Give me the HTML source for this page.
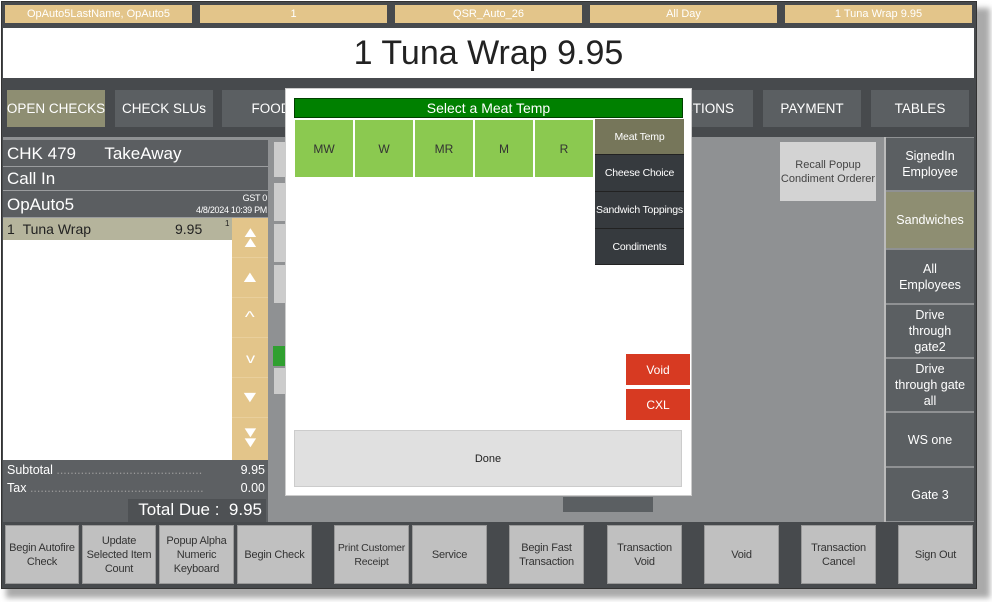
<!DOCTYPE html>
<html><head><meta charset="utf-8"><style>
*{margin:0;padding:0;box-sizing:border-box}
body{width:992px;height:602px;background:#fff;position:relative;overflow:hidden;font-family:"Liberation Sans",sans-serif}
div{position:absolute}
.c{display:flex;align-items:center;justify-content:center;text-align:center}
.tan{background:#e3c58a;color:#fff;font-size:11px;top:5px;height:18px}
.tab{top:90px;height:37px;background:#5b5f62;color:#fff;font-size:13.5px;white-space:nowrap}
.g{top:120px;height:57px;width:58px;background:#8bc950;color:#333;font-size:12px}
.cat{left:595px;width:89px;background:#363a3e;color:#fff;font-size:10.5px;border-bottom:1px solid #222;white-space:nowrap;letter-spacing:-0.2px}
.rb{left:886px;width:88px;background:#5b5f62;color:#fff;font-size:12.5px;line-height:16px}
.bb{top:525px;height:59px;background:#c0c0c0;color:#333;font-size:11px;line-height:14px;border:1px solid #999;letter-spacing:-0.2px}
.ar{left:232px;width:36px;height:40px;color:#fff;font-size:16px;border-bottom:1px solid #e9cf9c}
.ar span{display:inline-block;transform:scaleX(1.3)}
.lr{left:3px;width:265px;background:#5b5e61;color:#fff;border-bottom:1px solid #9a9c9e}
</style></head><body>
<div style="left:6px;top:8px;width:984px;height:590px;background:#aaa;filter:blur(3px)"></div>
<div style="left:1px;top:1px;width:976px;height:588px;background:#474a4d;border:1px solid #333"></div>
<div class="c tan" style="left:5px;width:187px">OpAuto5LastName, OpAuto5</div>
<div class="c tan" style="left:200px;width:187px">1</div>
<div class="c tan" style="left:395px;width:187px">QSR_Auto_26</div>
<div class="c tan" style="left:590px;width:187px">All Day</div>
<div class="c tan" style="left:785px;width:187px">1 Tuna Wrap 9.95</div>
<div class="c" style="left:3px;top:28px;width:971px;height:50px;background:#fff;font-size:34px;color:#222">1 Tuna Wrap 9.95</div>
<div class="c tab" style="left:7px;width:98px;background:#8e8e72">OPEN CHECKS</div>
<div class="c tab" style="left:115px;width:98px">CHECK SLUs</div>
<div class="c tab" style="left:222px;width:98px">FOOD</div>
<div class="c tab" style="left:655px;width:98px">ACTIONS</div>
<div class="c tab" style="left:763px;width:98px">PAYMENT</div>
<div class="c tab" style="left:871px;width:98px">TABLES</div>
<div style="left:3px;top:137px;width:971px;height:385px;background:#8f9193"></div>
<div class="lr" style="top:140px;height:27px;font-size:17px;padding:4px 4px">CHK 479&nbsp;&nbsp;&nbsp;&nbsp;&nbsp;&nbsp;TakeAway</div>
<div class="lr" style="top:167px;height:24px;font-size:17px;padding:2px 4px">Call In</div>
<div class="lr" style="top:191px;height:27px;font-size:17px;padding:4px 4px">OpAuto5</div>
<div style="left:180px;top:192px;width:87px;font-size:9px;color:#fff;text-align:right;line-height:12px;white-space:nowrap;letter-spacing:-0.3px">GST 0<br>4/8/2024 10:39 PM</div>
<div style="left:3px;top:218px;width:229px;height:242px;background:#fff"></div>
<div style="left:3px;top:218px;width:229px;height:22px;background:#b5b49c;font-size:14px;color:#222;padding:3px 4px">1&nbsp;&nbsp;Tuna Wrap<span style="position:absolute;left:172px">9.95</span><span style="position:absolute;left:222px;top:1px;font-size:8px">1</span></div>
<div style="left:232px;top:218px;width:36px;height:242px;background:#e3c58a"></div>
<div class="ar c" style="top:218px;font-size:15px;line-height:10px"><span>▲<br>▲</span></div>
<div class="ar c" style="top:258px"><span>▲</span></div>
<div class="ar c" style="top:298px;font-size:16px"><span>^</span></div>
<div class="ar c" style="top:338px;font-size:14px"><span>v</span></div>
<div class="ar c" style="top:378px"><span>▼</span></div>
<div class="ar c" style="top:418px;font-size:15px;line-height:10px;border:none"><span>▼<br>▼</span></div>
<div style="left:3px;top:460px;width:265px;height:62px;background:#5d6063;color:#fff;font-size:12.5px">
<div style="left:4px;top:3px;width:258px">Subtotal <span style="color:#999">..........................................</span><span style="position:absolute;right:0">9.95</span></div>
<div style="left:4px;top:21px;width:258px">Tax <span style="color:#999">..................................................</span><span style="position:absolute;right:0">0.00</span></div>
</div>
<div style="left:128px;top:499px;width:138px;height:23px;background:#4e5154;color:#fff;font-size:17px;padding:1px 4px;text-align:right">Total Due :&nbsp; 9.95</div>
<div style="left:274px;top:142px;width:12px;height:35px;background:#ccc"></div>
<div style="left:274px;top:183px;width:12px;height:38px;background:#ccc"></div>
<div style="left:274px;top:224px;width:12px;height:38px;background:#ccc"></div>
<div style="left:274px;top:265px;width:12px;height:38px;background:#ccc"></div>
<div style="left:273px;top:346px;width:13px;height:20px;background:#30a030"></div>
<div style="left:274px;top:368px;width:12px;height:26px;background:#ccc"></div>
<div style="left:563px;top:497px;width:90px;height:15px;background:#5b5f62"></div>
<div style="left:285px;top:88px;width:407px;height:408px;background:#fff;border:1px solid #ccc"></div>
<div class="c" style="left:294px;top:98px;width:389px;height:20px;background:#008000;color:#fff;font-size:14px;border:1px solid #004000">Select a Meat Temp</div>
<div class="c g" style="left:295px">MW</div>
<div class="c g" style="left:355px">W</div>
<div class="c g" style="left:415px">MR</div>
<div class="c g" style="left:475px">M</div>
<div class="c g" style="left:535px">R</div>
<div class="c cat" style="top:119px;height:36px;background:#76765a">Meat Temp</div>
<div class="c cat" style="top:155px;height:37px">Cheese Choice</div>
<div class="c cat" style="top:192px;height:37px">Sandwich Toppings</div>
<div class="c cat" style="top:229px;height:36px">Condiments</div>
<div class="c" style="left:626px;top:354px;width:64px;height:31px;background:#d73a22;color:#fff;font-size:12px">Void</div>
<div class="c" style="left:626px;top:389px;width:64px;height:31px;background:#d73a22;color:#fff;font-size:12px">CXL</div>
<div class="c" style="left:294px;top:430px;width:388px;height:57px;background:#e0e0e0;border:1px solid #ccc;font-size:11px;color:#222">Done</div>
<div class="c" style="left:780px;top:142px;width:96px;height:59px;background:#d3d3d3;color:#444;font-size:11px;line-height:14px">Recall Popup<br>Condiment Orderer</div>
<div style="left:884px;top:137px;width:2px;height:385px;background:#bbb"></div>
<div class="c rb" style="top:138px;height:52px">SignedIn<br>Employee</div>
<div class="c rb" style="top:192px;height:56px;background:#8e8e72">Sandwiches</div>
<div class="c rb" style="top:250px;height:53px">All<br>Employees</div>
<div class="c rb" style="top:305px;height:52px">Drive<br>through<br>gate2</div>
<div class="c rb" style="top:359px;height:52px">Drive<br>through gate<br>all</div>
<div class="c rb" style="top:413px;height:53px">WS one</div>
<div class="c rb" style="top:468px;height:53px">Gate 3</div>
<div class="c bb" style="left:5px;width:74px">Begin Autofire<br>Check</div>
<div class="c bb" style="left:82px;width:74px">Update<br>Selected Item<br>Count</div>
<div class="c bb" style="left:159px;width:75px">Popup Alpha<br>Numeric<br>Keyboard</div>
<div class="c bb" style="left:237px;width:75px">Begin Check</div>
<div class="c bb" style="left:334px;width:75px;white-space:nowrap;font-size:10.5px">Print Customer<br>Receipt</div>
<div class="c bb" style="left:412px;width:75px">Service</div>
<div class="c bb" style="left:509px;width:75px">Begin Fast<br>Transaction</div>
<div class="c bb" style="left:607px;width:75px">Transaction<br>Void</div>
<div class="c bb" style="left:704px;width:75px">Void</div>
<div class="c bb" style="left:801px;width:75px">Transaction<br>Cancel</div>
<div class="c bb" style="left:898px;width:75px">Sign Out</div>
</body></html>
